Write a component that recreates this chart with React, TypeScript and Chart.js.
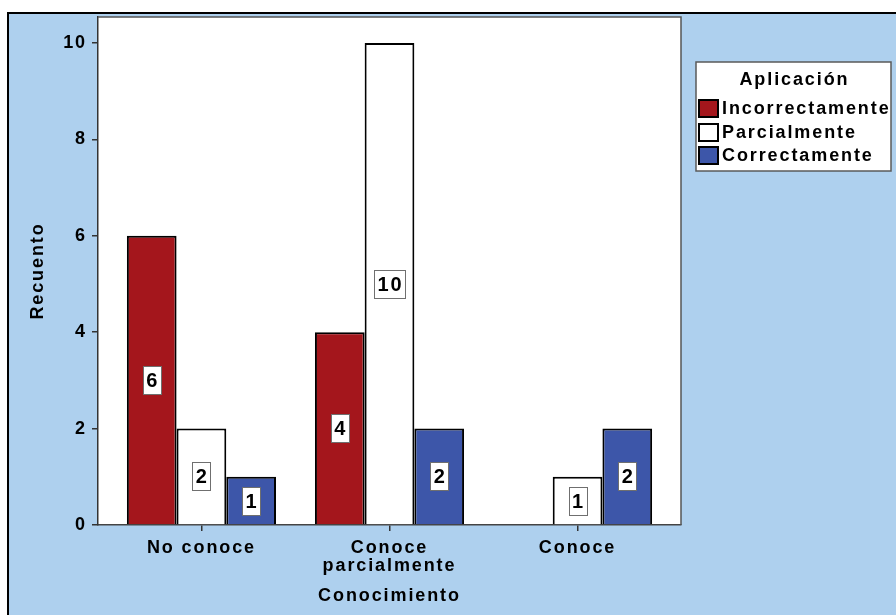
import React, { useEffect, useRef } from 'react';
import { Chart, registerables } from 'chart.js';

Chart.register(...registerables);

// Categories of "Conocimiento" (the middle one is split over two lines)
const CATEGORY_LABELS: (string | string[])[] = ['No conoce', ['Conoce', 'parcialmente'], 'Conoce'];

// Series of "Aplicación"
const SERIES_NAMES = ['Incorrectamente', 'Parcialmente', 'Correctamente'];
const INCORRECTAMENTE: (number | null)[] = [6, 4, null];
const PARCIALMENTE: (number | null)[] = [2, 10, 1];
const CORRECTAMENTE: (number | null)[] = [1, 2, 2];
const SERIES_COLORS = ['#a4161c', '#ffffff', '#3d56a9'];

const Y_TICKS = [0, 2, 4, 6, 8, 10];

const FONT = "'Liberation Sans', Arial, Helvetica, sans-serif";
const TEXT_SIZE = 18;
const SPACING_PX = 1.9;
const SPACING = `${SPACING_PX}px`;
const PANEL_BLUE = '#aed0ee';

const SERIES = [INCORRECTAMENTE, PARCIALMENTE, CORRECTAMENTE];

const framePlugin = {
  id: 'frame',
  beforeUpdate(chart: any) {
    chart.ctx.letterSpacing = SPACING;
  },
  beforeDraw(chart: any) {
    const { ctx, width, height, chartArea } = chart;
    ctx.letterSpacing = SPACING;
    ctx.save();
    ctx.fillStyle = '#ffffff';
    ctx.fillRect(0, 0, width, height);
    ctx.fillStyle = PANEL_BLUE;
    ctx.fillRect(8, 13, width - 8, height - 13);
    ctx.strokeStyle = '#000000';
    ctx.lineWidth = 2;
    ctx.beginPath();
    ctx.moveTo(8, height);
    ctx.lineTo(8, 13);
    ctx.lineTo(width, 13);
    ctx.stroke();
    ctx.fillStyle = '#ffffff';
    ctx.fillRect(chartArea.left, chartArea.top, chartArea.right - chartArea.left, chartArea.bottom - chartArea.top);
    ctx.restore();
  },
  afterDatasetsDraw(chart: any) {
    const { ctx, chartArea } = chart;
    ctx.save();
    // plot frame (top and right)
    ctx.strokeStyle = '#555555';
    ctx.lineWidth = 1.5;
    ctx.beginPath();
    ctx.moveTo(chartArea.left, chartArea.top);
    ctx.lineTo(chartArea.right, chartArea.top);
    ctx.lineTo(chartArea.right, chartArea.bottom);
    ctx.stroke();

    // value labels in the middle of each bar
    const ls = 2;
    ctx.font = `bold 20px ${FONT}`;
    ctx.letterSpacing = `${ls}px`;
    ctx.textAlign = 'left';
    ctx.textBaseline = 'middle';
    chart.data.datasets.forEach((ds: any, di: number) => {
      const meta = chart.getDatasetMeta(di);
      meta.data.forEach((bar: any, i: number) => {
        const v = ds.data[i]?.y;
        if (v == null || v === 0) return;
        const { x, y, base } = bar.getProps(['x', 'y', 'base'], true);
        const cy = (y + base) / 2;
        const text = String(v);
        const w = ctx.measureText(text).width - ls;
        const bw = Math.round(w + 7);
        const bh = 28;
        const bx = Math.round(x - bw / 2);
        const by = Math.round(cy - bh / 2);
        ctx.fillStyle = '#ffffff';
        ctx.fillRect(bx, by, bw, bh);
        ctx.strokeStyle = '#6f6f6f';
        ctx.lineWidth = 1;
        ctx.strokeRect(bx + 0.5, by + 0.5, bw, bh);
        ctx.fillStyle = '#000000';
        ctx.fillText(text, x - w / 2, cy + 1.5);
      });
    });
    ctx.restore();
  },
  afterDraw(chart: any) {
    const { ctx } = chart;
    ctx.save();
    ctx.letterSpacing = SPACING;
    // legend box
    const lx = 696, ly = 62, lw = 195, lh = 109;
    ctx.fillStyle = '#ffffff';
    ctx.fillRect(lx, ly, lw, lh);
    ctx.strokeStyle = '#5a5a5a';
    ctx.lineWidth = 1.5;
    ctx.strokeRect(lx, ly, lw, lh);

    ctx.fillStyle = '#000000';
    ctx.font = `bold ${TEXT_SIZE}px ${FONT}`;
    ctx.textBaseline = 'middle';
    ctx.textAlign = 'left';
    const title = 'Aplicación';
    const tw = ctx.measureText(title).width - SPACING_PX;
    ctx.fillText(title, lx + lw / 2 - tw / 2, 80);

    const rows = [108, 132, 155];
    chart.data.datasets.forEach((ds: any, di: number) => {
      const cy = rows[di];
      ctx.fillStyle = ds.backgroundColor;
      ctx.fillRect(699, cy - 8, 19, 17);
      ctx.strokeStyle = '#000000';
      ctx.lineWidth = 2;
      ctx.strokeRect(699, cy - 8, 19, 17);
      ctx.fillStyle = '#000000';
      ctx.fillText(ds.label, 722, cy + 1);
    });
    ctx.restore();
  },
};

export default function App() {
  const canvasRef = useRef<HTMLCanvasElement | null>(null);

  useEffect(() => {
    const canvas = canvasRef.current;
    if (!canvas) return;

    const datasets = SERIES.map((values, di) => ({
      label: SERIES_NAMES[di],
      data: values.map((v, i) => ({ x: i, y: v })),
      backgroundColor: SERIES_COLORS[di],
      borderColor: '#000000',
      borderWidth: 2,
      borderSkipped: 'start' as const,
      inflateAmount: 0,
      categoryPercentage: 0.793,
      barPercentage: 1,
    }));

    const tickFont = { family: FONT, size: TEXT_SIZE, weight: 'bold' as const };

    const chart = new Chart(canvas, {
      type: 'bar',
      data: { datasets },
      options: {
        animation: false,
        responsive: false,
        devicePixelRatio: 1,
        layout: { padding: { left: 8, top: 17, right: 215, bottom: 0 } },
        plugins: {
          legend: { display: false },
          tooltip: { enabled: false },
        },
        scales: {
          x: {
            type: 'linear',
            min: -0.55,
            max: 2.55,
            offset: false,
            afterBuildTicks: (scale: any) => {
              scale.ticks = CATEGORY_LABELS.map((_, i) => ({ value: i }));
            },
            afterFit: (scale: any) => {
              scale.height = 90;
            },
            ticks: {
              autoSkip: false,
              maxRotation: 0,
              padding: 8,
              color: '#000000',
              font: { ...tickFont, lineHeight: 1.0 },
              callback: (value: any) => CATEGORY_LABELS[Math.round(Number(value))] ?? '',
            },
            grid: {
              display: true,
              offset: false,
              drawOnChartArea: false,
              drawTicks: true,
              tickLength: 6,
              color: '#333333',
              lineWidth: 1.5,
            },
            border: { display: true, color: '#444444', width: 1.5 },
            title: {
              display: true,
              text: 'Conocimiento',
              color: '#000000',
              font: { ...tickFont, lineHeight: 1.2 },
              padding: { top: 0, bottom: 8 },
            },
          },
          y: {
            type: 'linear',
            min: 0,
            max: 10.54,
            afterBuildTicks: (scale: any) => {
              scale.ticks = Y_TICKS.map((v) => ({ value: v }));
            },
            afterFit: (scale: any) => {
              scale.width = 90;
            },
            ticks: {
              padding: 5,
              color: '#000000',
              font: tickFont,
            },
            grid: {
              display: true,
              drawOnChartArea: false,
              drawTicks: true,
              tickLength: 6,
              color: '#333333',
              lineWidth: 1.5,
            },
            border: { display: true, color: '#333333', width: 1.5 },
            title: {
              display: true,
              text: 'Recuento',
              color: '#000000',
              font: { ...tickFont, lineHeight: 1.2 },
              padding: { top: 19, bottom: 0 },
            },
          },
        },
      },
      plugins: [framePlugin],
    } as any);

    return () => chart.destroy();
  }, []);

  return (
    <div style={{ position: 'fixed', left: 0, top: 0, width: 896, height: 615 }}>
      <canvas ref={canvasRef} width={896} height={615} style={{ display: 'block', width: 896, height: 615 }} />
    </div>
  );
}
